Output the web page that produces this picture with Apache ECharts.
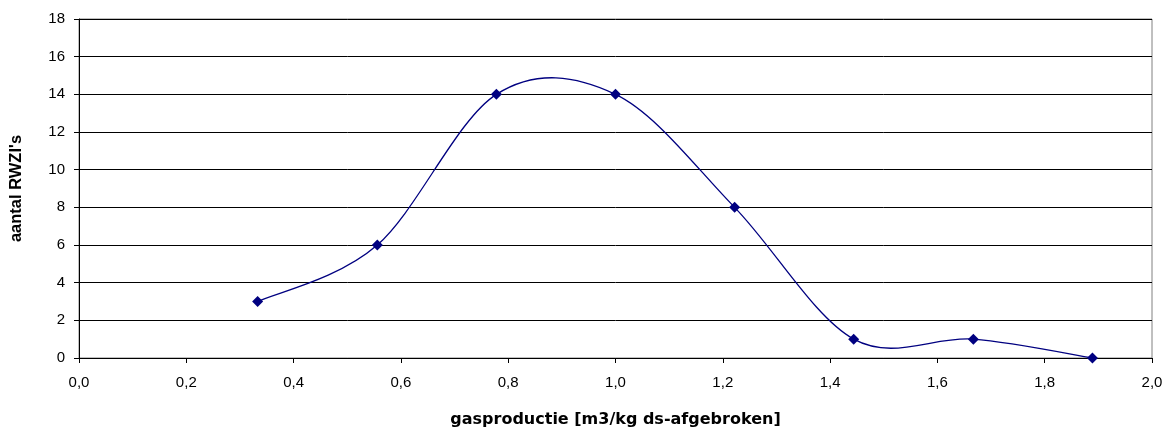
<!DOCTYPE html>
<html><head><meta charset="utf-8">
<script src="https://cdn.jsdelivr.net/npm/echarts@6/dist/echarts.min.js"></script>
<style>html,body{margin:0;padding:0;background:#fff}#c{width:1172px;height:435px}</style>
</head><body><div id="c"></div>
<script>
const xValues = [0.333, 0.556, 0.778, 1.0, 1.222, 1.444, 1.667, 1.889];
const yValues = [3, 6, 14, 14, 8, 1, 1, 0];
const xTitle = "gasproductie [m3/kg ds-afgebroken]";
const yTitle = "aantal RWZI's";

const points = xValues.map((x, i) => [x, yValues[i]]);
const chart = echarts.init(document.getElementById('c'), null, {renderer: 'canvas'});
const font = 'Liberation Sans, Arial, sans-serif';

// Excel-style (Catmull-Rom) smoothed curve through the data points, in pixel space via api.coord
function renderCurve(params, api) {
  const p = points.map(d => api.coord(d));
  const n = p.length;
  let d = 'M' + p[0][0] + ' ' + p[0][1];
  for (let i = 0; i < n - 1; i++) {
    const p0 = p[Math.max(i - 1, 0)], p1 = p[i], p2 = p[i + 1], p3 = p[Math.min(i + 2, n - 1)];
    const c1 = [p1[0] + (p2[0] - p0[0]) / 6, p1[1] + (p2[1] - p0[1]) / 6];
    const c2 = [p2[0] - (p3[0] - p1[0]) / 6, p2[1] - (p3[1] - p1[1]) / 6];
    d += ' C' + c1[0] + ' ' + c1[1] + ' ' + c2[0] + ' ' + c2[1] + ' ' + p2[0] + ' ' + p2[1];
  }
  return {type: 'path', shape: {pathData: d}, style: {stroke: '#000080', fill: null, lineWidth: 1.3}, silent: true};
}

chart.setOption({
  animation: false,
  backgroundColor: '#fff',
  grid: {left: 79, right: 20, top: 19, bottom: 77, show: true, borderColor: '#808080', borderWidth: 1},
  xAxis: {
    type: 'value', min: 0, max: 2, interval: 0.2,
    name: xTitle, nameLocation: 'middle', nameGap: 54,
    nameTextStyle: {fontFamily: 'DejaVu Sans, sans-serif', fontSize: 16, fontWeight: 'bold', color: '#000'},
    axisLine: {show: true, lineStyle: {color: '#000', width: 1}},
    axisTick: {show: true, inside: false, length: 5, lineStyle: {color: '#000'}},
    axisLabel: {fontFamily: font, fontSize: 15, color: '#000', margin: 17,
      formatter: v => v.toFixed(1).replace('.', ',')},
    splitLine: {show: false}
  },
  yAxis: {
    type: 'value', min: 0, max: 18, interval: 2,
    name: yTitle, nameLocation: 'middle', nameGap: 54,
    nameTextStyle: {fontFamily: font, fontSize: 16.5, fontWeight: 'bold', color: '#000'},
    axisLine: {show: true, lineStyle: {color: '#000', width: 1}},
    axisTick: {show: true, inside: false, length: 5, lineStyle: {color: '#000'}},
    axisLabel: {fontFamily: font, fontSize: 15, color: '#000', margin: 14},
    splitLine: {show: true, lineStyle: {color: '#000', width: 1}}
  },
  series: [{
    type: 'custom',
    data: [0],
    renderItem: renderCurve,
    z: 2
  }, {
    type: 'scatter',
    data: points,
    symbol: 'diamond', symbolSize: 11,
    itemStyle: {color: '#000080', opacity: 1},
    z: 3
  }]
});
</script></body></html>
